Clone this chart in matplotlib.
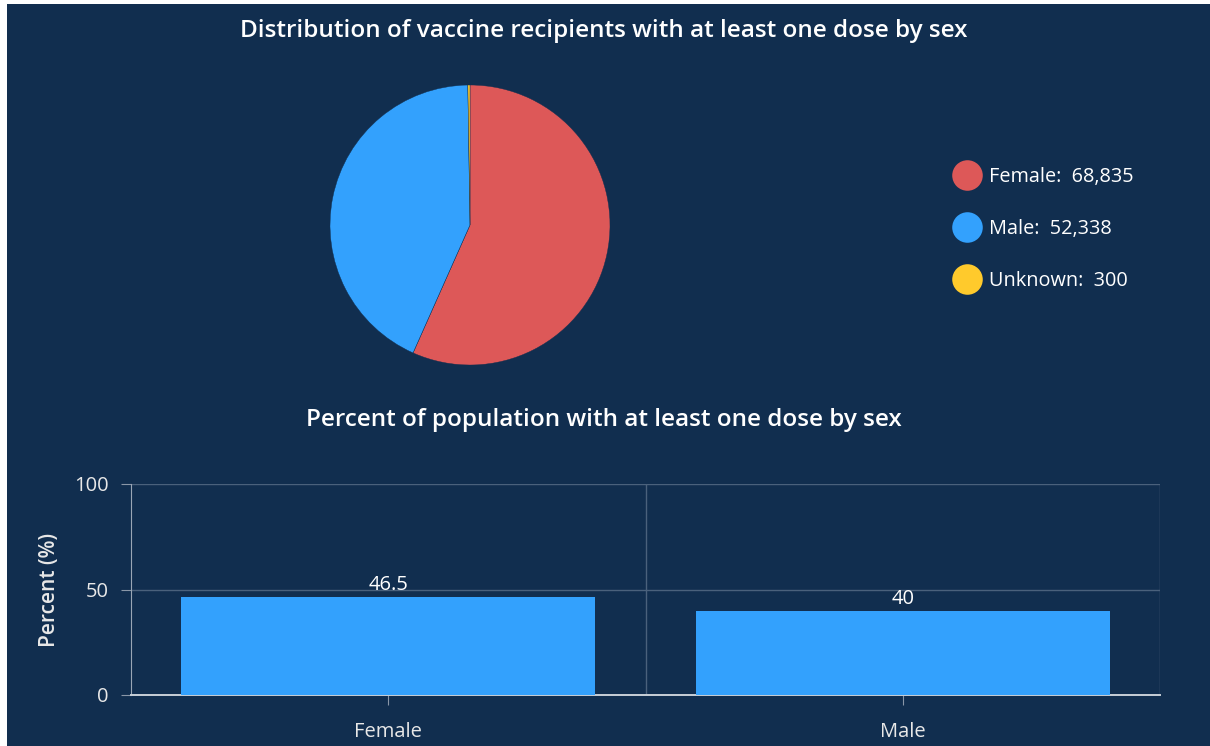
import matplotlib.pyplot as plt
from matplotlib.lines import Line2D
from matplotlib.patches import Rectangle

# data
sexes = ["Female", "Male", "Unknown"]
recipients = [68835, 52338, 300]
slice_colors = ["#dd5858", "#33a1fd", "#ffca2c"]

bar_labels = ["Female", "Male"]
pct_one_dose = [46.5, 40]

BG = "#112e4f"
W, H = 1210, 746
plt.rcParams["font.family"] = ["Open Sans", "DejaVu Sans"]

fig = plt.figure(figsize=(W / 100, H / 100), dpi=100, facecolor="white")
fig.patches.append(Rectangle((7 / W, 0), 1 - 7 / W, 1 - 4 / H,
                             transform=fig.transFigure, facecolor=BG,
                             edgecolor="none", zorder=-10))


def box(x0, y0, x1, y1):
    # pixel box (top-left origin) -> figure fraction
    return [x0 / W, 1 - y1 / H, (x1 - x0) / W, (y1 - y0) / H]


# pie
ax1 = fig.add_axes(box(330, 85, 610, 365))
ax1.pie(recipients, colors=slice_colors, startangle=90, counterclock=False,
        wedgeprops=dict(linewidth=0.3, edgecolor=BG))
ax1.set_xlim(-1, 1)
ax1.set_ylim(-1, 1)
ax1.set_aspect("equal")
ax1.axis("off")

fig.text(604 / W, 1 - 31 / H,
         "Distribution of vaccine recipients with at least one dose by sex",
         ha="center", va="center", color="white", fontsize=17.5, fontweight="semibold")

handles = [Line2D([], [], marker="o", linestyle="none", markersize=22,
                  markerfacecolor=c, markeredgecolor="none") for c in slice_colors]
labels = [f"{s}:  {v:,}" for s, v in zip(sexes, recipients)]
fig.legend(handles, labels, loc="center left", bbox_to_anchor=(933 / W, 1 - 229 / H),
           frameon=False, fontsize=14.3, labelcolor="white", handletextpad=0.3,
           labelspacing=1.6, handlelength=1.6)

# bars
fig.text(604 / W, 1 - 420 / H, "Percent of population with at least one dose by sex",
         ha="center", va="center", color="white", fontsize=17.5, fontweight="semibold")

ax2 = fig.add_axes(box(131, 484, 1160, 695))
ax2.set_facecolor(BG)
x = range(len(bar_labels))
bars = ax2.bar(x, pct_one_dose, width=0.805, color="#33a1fd", zorder=3)
ax2.bar_label(bars, labels=[f"{v:g}" for v in pct_one_dose], padding=1,
              color="white", fontsize=14.5)
ax2.set_xlim(-0.5, len(bar_labels) - 0.5)
ax2.set_ylim(0, 100)
ax2.set_yticks([0, 50, 100])
ax2.set_xticks(list(x))
ax2.set_xticklabels(bar_labels)
ax2.set_xticks([0.5, 1.5], minor=True)
ax2.grid(axis="y", color="#4a617c", linewidth=1, zorder=0)
ax2.grid(axis="x", which="minor", color="#4a617c", linewidth=1, zorder=0)
ax2.tick_params(axis="x", which="minor", length=0)
ax2.tick_params(axis="y", length=7.2, color="#8a97a8", labelcolor="#e8e8e8",
                labelsize=14.5, pad=9)
ax2.tick_params(axis="x", which="major", length=7.2, color="#8a97a8",
                labelcolor="#e8e8e8", labelsize=14.5, pad=12)
for s in ["top", "right"]:
    ax2.spines[s].set_visible(False)
ax2.spines["left"].set_color("#9aa6b5")
ax2.spines["bottom"].set_color("#c8d0d8")
ax2.spines["bottom"].set_linewidth(1.4)
ax2.set_ylabel("Percent (%)", color="#e8e8e8", fontsize=15, fontweight="semibold",
               labelpad=10)

fig.savefig("out.png", dpi=100, facecolor="white")
